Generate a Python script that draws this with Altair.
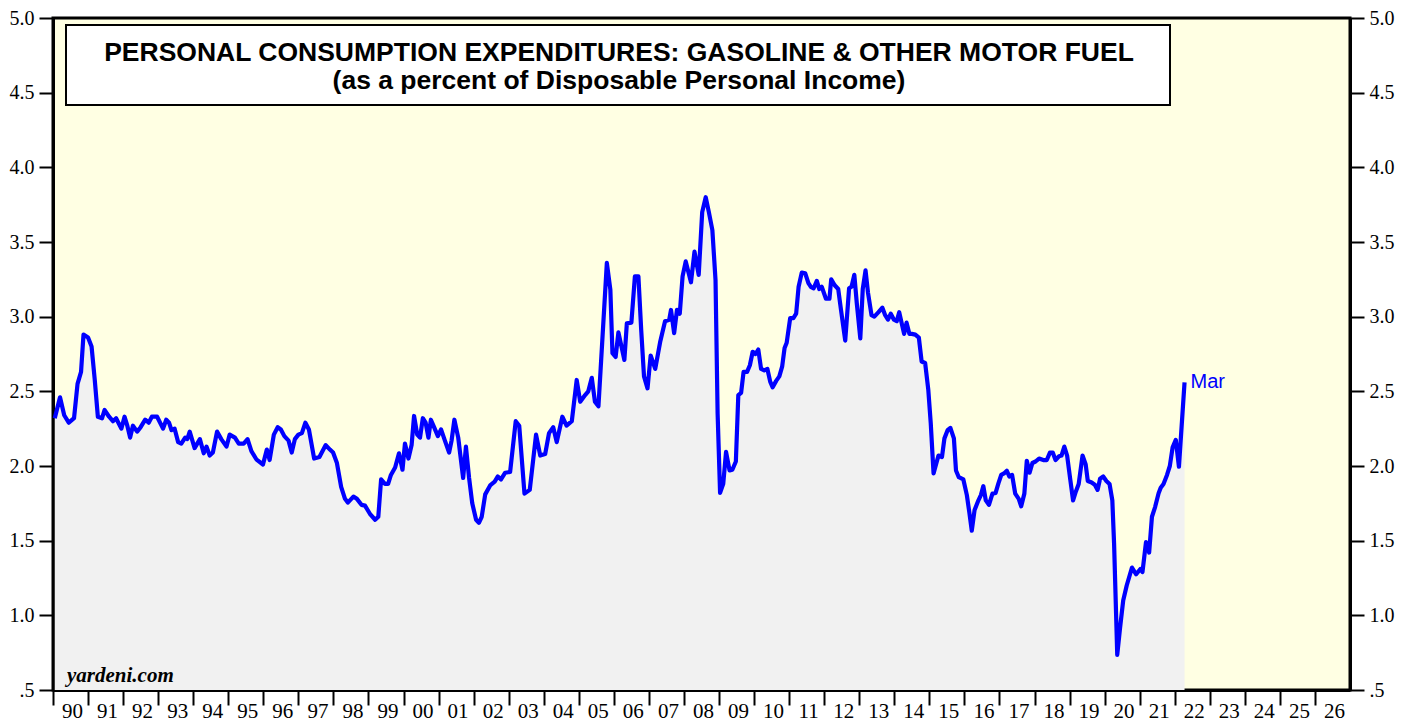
import altair as alt
import pandas as pd

# decimal-year positions and values
years = [
    1990.05, 1990.20, 1990.32, 1990.45, 1990.60, 1990.70, 1990.80, 1990.87, 1991.00, 1991.10,
    1991.19, 1991.28, 1991.40, 1991.47, 1991.60, 1991.71, 1991.80, 1991.95, 1992.04, 1992.12,
    1992.20, 1992.28, 1992.40, 1992.50, 1992.63, 1992.73, 1992.82, 1992.97, 1993.14, 1993.23,
    1993.31, 1993.38, 1993.47, 1993.57, 1993.66, 1993.77, 1993.83, 1993.90, 1994.04, 1994.19,
    1994.30, 1994.38, 1994.47, 1994.56, 1994.68, 1994.80, 1994.95, 1995.04, 1995.19, 1995.30,
    1995.44, 1995.55, 1995.66, 1995.80, 1995.99, 1996.10, 1996.18, 1996.30, 1996.41, 1996.50,
    1996.60, 1996.72, 1996.81, 1996.90, 1997.00, 1997.10, 1997.20, 1997.30, 1997.45, 1997.60,
    1997.78, 1997.90, 1997.99, 1998.10, 1998.22, 1998.33, 1998.41, 1998.57, 1998.67, 1998.80,
    1998.90, 1999.04, 1999.19, 1999.28, 1999.36, 1999.47, 1999.56, 1999.64, 1999.76, 1999.87,
    1999.97, 2000.04, 2000.14, 2000.23, 2000.30, 2000.39, 2000.47, 2000.55, 2000.63, 2000.71,
    2000.78, 2000.88, 2000.98, 2001.07, 2001.18, 2001.30, 2001.37, 2001.45, 2001.56, 2001.70,
    2001.78, 2001.87, 2001.96, 2002.07, 2002.15, 2002.23, 2002.33, 2002.47, 2002.60, 2002.69,
    2002.78, 2002.90, 2003.04, 2003.20, 2003.30, 2003.45, 2003.60, 2003.78, 2003.90, 2004.04,
    2004.15, 2004.27, 2004.37, 2004.53, 2004.65, 2004.80, 2004.94, 2005.04, 2005.18, 2005.27,
    2005.37, 2005.46, 2005.56, 2005.67, 2005.80, 2005.90, 2005.96, 2006.05, 2006.13, 2006.30,
    2006.37, 2006.50, 2006.60, 2006.70, 2006.78, 2006.86, 2006.96, 2007.05, 2007.18, 2007.32,
    2007.46, 2007.58, 2007.63, 2007.72, 2007.80, 2007.88, 2007.96, 2008.05, 2008.20, 2008.30,
    2008.42, 2008.52, 2008.62, 2008.71, 2008.81, 2008.90, 2008.96, 2009.03, 2009.12, 2009.20,
    2009.30, 2009.38, 2009.48, 2009.55, 2009.63, 2009.70, 2009.80, 2009.88, 2009.96, 2010.04,
    2010.12, 2010.20, 2010.29, 2010.38, 2010.46, 2010.53, 2010.63, 2010.72, 2010.80, 2010.87,
    2010.93, 2011.03, 2011.12, 2011.20, 2011.27, 2011.36, 2011.46, 2011.55, 2011.62, 2011.70,
    2011.79, 2011.86, 2011.93, 2012.05, 2012.15, 2012.20, 2012.30, 2012.40, 2012.48, 2012.60,
    2012.71, 2012.78, 2012.86, 2012.93, 2013.03, 2013.10, 2013.18, 2013.25, 2013.35, 2013.43,
    2013.55, 2013.66, 2013.74, 2013.82, 2013.90, 2013.99, 2014.07, 2014.14, 2014.28, 2014.35,
    2014.43, 2014.50, 2014.60, 2014.70, 2014.78, 2014.88, 2014.97, 2015.04, 2015.12, 2015.26,
    2015.36, 2015.43, 2015.52, 2015.60, 2015.70, 2015.76, 2015.84, 2015.97, 2016.07, 2016.14,
    2016.21, 2016.29, 2016.40, 2016.47, 2016.54, 2016.61, 2016.70, 2016.80, 2016.89, 2016.97,
    2017.05, 2017.13, 2017.21, 2017.28, 2017.36, 2017.45, 2017.55, 2017.62, 2017.71, 2017.78,
    2017.86, 2017.94, 2018.03, 2018.13, 2018.25, 2018.35, 2018.44, 2018.52, 2018.60, 2018.70,
    2018.77, 2018.85, 2018.93, 2019.02, 2019.10, 2019.18, 2019.26, 2019.37, 2019.46, 2019.52,
    2019.63, 2019.72, 2019.80, 2019.87, 2019.96, 2020.05, 2020.14, 2020.22, 2020.27, 2020.36,
    2020.44, 2020.53, 2020.63, 2020.78, 2020.90, 2021.02, 2021.08, 2021.18, 2021.27, 2021.35,
    2021.44, 2021.54, 2021.60, 2021.68, 2021.78, 2021.86, 2021.94, 2022.03, 2022.12, 2022.28,
]

values = [
    2.32, 2.46, 2.34, 2.29, 2.32, 2.55, 2.63, 2.88, 2.86, 2.80,
    2.58, 2.33, 2.32, 2.375, 2.33, 2.30, 2.32, 2.25, 2.33, 2.27,
    2.19, 2.27, 2.23, 2.26, 2.31, 2.29, 2.33, 2.33, 2.25, 2.31,
    2.29, 2.24, 2.25, 2.16, 2.15, 2.19, 2.18, 2.23, 2.12, 2.18,
    2.085, 2.13, 2.07, 2.09, 2.23, 2.18, 2.13, 2.21, 2.19, 2.15,
    2.15, 2.18, 2.10, 2.045, 2.01, 2.11, 2.04, 2.21, 2.26, 2.245,
    2.20, 2.17, 2.09, 2.18, 2.21, 2.22, 2.29, 2.245, 2.05, 2.06,
    2.14, 2.11, 2.09, 2.02, 1.86, 1.78, 1.755, 1.795, 1.78, 1.74,
    1.735, 1.68, 1.64, 1.66, 1.91, 1.88, 1.88, 1.94, 1.99, 2.085,
    1.975, 2.15, 2.05, 2.14, 2.335, 2.21, 2.19, 2.32, 2.29, 2.19,
    2.31, 2.255, 2.20, 2.245, 2.17, 2.09, 2.17, 2.31, 2.19, 1.92,
    2.13, 1.92, 1.75, 1.64, 1.62, 1.66, 1.81, 1.87, 1.895, 1.93,
    1.91, 1.955, 1.96, 2.30, 2.27, 1.815, 1.84, 2.21, 2.07, 2.08,
    2.22, 2.26, 2.16, 2.33, 2.27, 2.30, 2.576, 2.43, 2.475, 2.50,
    2.59, 2.43, 2.40, 2.84, 3.36, 3.18, 2.755, 2.73, 2.895, 2.71,
    2.955, 2.96, 3.27, 3.27, 2.91, 2.60, 2.52, 2.74, 2.65, 2.83,
    2.97, 2.98, 3.045, 2.89, 3.045, 3.02, 3.27, 3.37, 3.23, 3.435,
    3.28, 3.70, 3.80, 3.70, 3.58, 3.245, 2.35, 1.82, 1.88, 2.095,
    1.97, 1.975, 2.03, 2.475, 2.49, 2.63, 2.63, 2.675, 2.765, 2.75,
    2.78, 2.65, 2.64, 2.65, 2.565, 2.527, 2.57, 2.60, 2.665, 2.79,
    2.825, 2.99, 2.99, 3.02, 3.20, 3.295, 3.29, 3.225, 3.20, 3.19,
    3.24, 3.185, 3.20, 3.12, 3.12, 3.25, 3.21, 3.185, 3.045, 2.84,
    3.19, 3.20, 3.28, 3.09, 2.855, 3.185, 3.31, 3.16, 3.01, 3.00,
    3.03, 3.06, 3.01, 2.98, 3.02, 2.98, 2.97, 3.03, 2.885, 2.96,
    2.885, 2.885, 2.88, 2.86, 2.70, 2.69, 2.51, 2.285, 1.95, 2.07,
    2.06, 2.185, 2.24, 2.255, 2.185, 1.97, 1.925, 1.91, 1.805, 1.69,
    1.567, 1.705, 1.77, 1.805, 1.865, 1.77, 1.74, 1.815, 1.82, 1.884,
    1.94, 1.95, 1.968, 1.93, 1.94, 1.815, 1.78, 1.73, 1.815, 2.035,
    1.955, 2.02, 2.03, 2.05, 2.04, 2.04, 2.09, 2.09, 2.04, 2.065,
    2.07, 2.13, 2.07, 1.91, 1.77, 1.83, 1.88, 2.07, 2.01, 1.90,
    1.89, 1.875, 1.84, 1.915, 1.93, 1.90, 1.88, 1.77, 1.48, 0.735,
    0.915, 1.10, 1.20, 1.32, 1.275, 1.31, 1.29, 1.49, 1.42, 1.66,
    1.725, 1.817, 1.855, 1.88, 1.94, 2.00, 2.125, 2.175, 1.995, 2.56,
]

year_ticks = list(range(1990, 2027))
y_ticks = [0.5, 1.0, 1.5, 2.0, 2.5, 3.0, 3.5, 4.0, 4.5, 5.0]
title_line1 = "PERSONAL CONSUMPTION EXPENDITURES: GASOLINE & OTHER MOTOR FUEL"
title_line2 = "(as a percent of Disposable Personal Income)"
last_label = "Mar"
source_label = "yardeni.com"

df = pd.DataFrame({"yr": years, "v": values})
last_df = pd.DataFrame({"yr": [years[-1]], "v": [values[-1]], "t": [last_label]})
one = pd.DataFrame({"k": [0]})

SERIF = "Liberation Serif"
SANS = "Liberation Sans"

xscale = alt.Scale(domain=[1990, 2027], nice=False, zero=False)
yscale = alt.Scale(domain=[0.5, 5.0], nice=False, zero=False)

x_axis = alt.Axis(
    values=year_ticks, format="d", labelExpr="substring(datum.label, 2, 4)",
    labelOffset=19, tickSize=15, labelPadding=-5, labelFont=SERIF, labelFontSize=21,
    labelColor="black", tickColor="black", tickWidth=2, domainColor="black",
    domainWidth=3, grid=False, title=None, labelFlush=False, labelOverlap=False,
    labelAlign="center", labelBaseline="top",
)

ylab = "datum.value == 0.5 ? '.5' : format(datum.value, '.1f')"


def y_axis(orient):
    return alt.Axis(
        orient=orient, values=y_ticks, labelExpr=ylab, tickSize=14, labelPadding=5,
        labelFont=SERIF, labelFontSize=20, labelColor="black", tickColor="black",
        tickWidth=2, domainColor="black", domainWidth=3, grid=False, title=None,
        labelFlush=False, labelOverlap=False,
    )


X = alt.X("yr:Q", scale=xscale, axis=x_axis)

area = alt.Chart(df).mark_area(color="#F1F1F1", opacity=1).encode(
    x=X,
    y=alt.Y("v:Q", scale=yscale, axis=y_axis("left")),
    y2=alt.datum(0.5),
)

line = alt.Chart(df).mark_line(color="#0000FF", strokeWidth=4.2, strokeJoin="round").encode(
    x=X,
    y=alt.Y("v:Q", scale=yscale, axis=y_axis("right")),
)

mar = alt.Chart(last_df).mark_text(
    align="left", baseline="middle", dx=6, color="#0000FF", font=SANS, fontSize=20
).encode(
    x=X,
    y=alt.Y("v:Q", scale=yscale, axis=None),
    text="t:N",
)

box = alt.Chart(one).mark_rect(fill="white", stroke="black", strokeWidth=2).encode(
    x=alt.value(13), x2=alt.value(1117), y=alt.value(7), y2=alt.value(87)
)

t1 = alt.Chart(one).mark_text(
    text=title_line1, font=SANS, fontSize=26.5, fontWeight="bold", align="center",
    baseline="alphabetic", color="black",
).encode(x=alt.value(566), y=alt.value(43))

t2 = alt.Chart(one).mark_text(
    text=title_line2, font=SANS, fontSize=26.5, fontWeight="bold", align="center",
    baseline="alphabetic", color="black",
).encode(x=alt.value(566), y=alt.value(71))

src = alt.Chart(one).mark_text(
    text=source_label, font=SERIF, fontSize=21, fontWeight="bold", fontStyle="italic",
    align="left", baseline="alphabetic", color="black",
).encode(x=alt.value(14), y=alt.value(664))

chart = (
    alt.layer(area, line, mar, box, t1, t2, src)
    .resolve_axis(y="independent")
    .properties(
        width=1297, height=672,
        padding={"left": 45, "top": 10, "right": 58, "bottom": 39},
        autosize=alt.AutoSizeParams(type="none"),
        background="white",
    )
    .configure_view(fill="#FFFFE3", stroke="black", strokeWidth=3)
)

chart.save("out.html", embed_options={"renderer": "svg", "actions": False})
